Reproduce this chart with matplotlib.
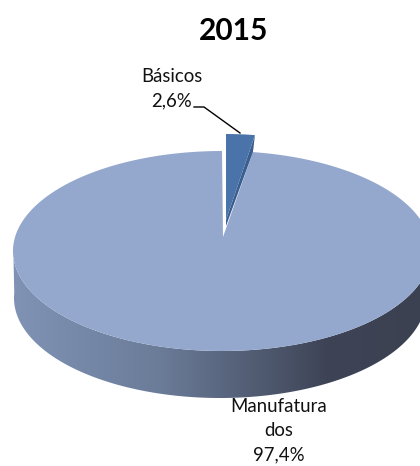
import numpy as np
import matplotlib
matplotlib.use("Agg")
import matplotlib.pyplot as plt
from matplotlib.colors import LinearSegmentedColormap
from matplotlib.patches import Polygon

title = "2015"
categories = ["Básicos", "Manufatura\ndos"]
shares = [2.6, 97.4]

plt.rcParams["font.family"] = ["Lato", "DejaVu Sans"]

fig = plt.figure(figsize=(4.2, 4.66), dpi=100)
ax = fig.add_axes([0, 0, 1, 1])
ax.set_xlim(0, 420)
ax.set_ylim(466, 0)
ax.axis("off")


def pct(v):
    return f"{v:.1f}%".replace(".", ",")


# slice sweep, clockwise from 12 o'clock
sweep = shares[0] / sum(shares) * 2 * np.pi

# big slice: the top is a perspective ellipse, so the apex sits above its centre
# start is pulled back a bit so the small slice's side touches it
cx, cy, a, b = 222, 251, 209, 100
t = np.linspace(sweep * 0.91, 2 * np.pi, 300)
top = np.column_stack([cx + a * np.sin(t), cy - b * np.cos(t)])
top = np.vstack([[223, 237], top])

# side wall with horizontal gradient
t2 = np.linspace(np.pi / 2 - 0.05, 3 * np.pi / 2 + 0.05, 200)
upper = np.column_stack([cx + a * np.sin(t2), cy - b * np.cos(t2)])
lower = np.column_stack([cx - 2 + 206 * np.sin(t2), 298 - 100 * np.cos(t2)])
wall = Polygon(np.vstack([upper, lower[::-1]]), closed=True, fc="none", ec="none")
ax.add_patch(wall)
cmap = LinearSegmentedColormap.from_list(
    "wall", [(0, "#8093B5"), (0.35, "#6B7C99"), (0.75, "#3E4456"), (1, "#3B4150")]
)
grad = np.linspace(0, 1, 256).reshape(1, -1)
im = ax.imshow(grad, extent=(13, 431, 466, 0), aspect="auto", cmap=cmap, zorder=1)
im.set_clip_path(wall)
ax.set_xlim(0, 420)
ax.set_ylim(466, 0)

ax.add_patch(Polygon(top, closed=True, fc="#94A8CE", ec="none", zorder=2))

# small exploded slice
ax_, ay_, a_s, b_s = 226, 220, 178, 86
ts = np.linspace(0, sweep, 20)
small = np.column_stack([ax_ + a_s * np.sin(ts), ay_ - b_s * np.cos(ts)])
corner = small[-1]
side = [corner, (corner[0] - 2, corner[1] + 17), (ax_, ay_ + 6), (ax_, ay_)]
ax.add_patch(Polygon(side, closed=True, fc="#3A5E8E", ec="none", zorder=3))
ax.add_patch(Polygon(np.vstack([[ax_, ay_], small]), closed=True, fc="#4A74A9", ec="none", zorder=4))

# leader line
ax.plot([194, 204, 240], [107, 107, 133], color="black", lw=1, zorder=5)

ax.text(234, 31, title, ha="center", va="center", fontsize=21.5, fontweight="bold", color="black")
ax.text(172, 89, f"{categories[0]}\n{pct(shares[0])}", ha="center", va="center",
        fontsize=13.4, linespacing=1.5, color="#111111", zorder=6)
ax.text(279, 431, f"{categories[1]}\n{pct(shares[1])}", ha="center", va="center",
        fontsize=13.4, linespacing=1.5, color="#111111", zorder=6)

fig.savefig("out.png", dpi=100)
